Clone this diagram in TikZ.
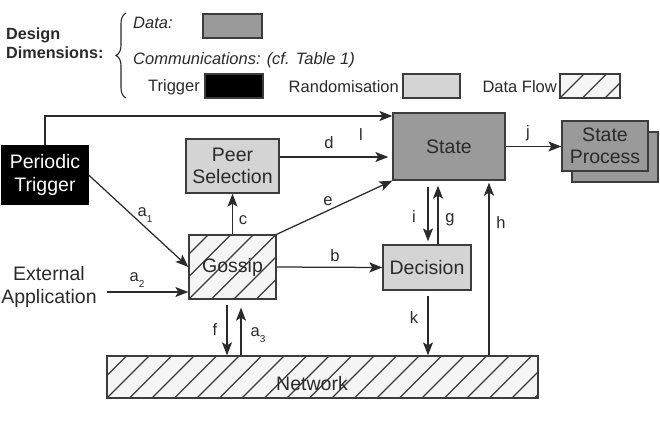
\documentclass[tikz,border=0pt]{standalone}
\usepackage{fontspec}
\setmainfont{Liberation Sans}
\usetikzlibrary{arrows.meta,decorations.pathreplacing}
\definecolor{dgray}{HTML}{9A9A9A}
\definecolor{lgray}{HTML}{D4D4D4}
\definecolor{hbg}{HTML}{F5F5F5}
\definecolor{ink}{HTML}{2A2A2A}
\definecolor{edge}{HTML}{3C3C3C}
\newcommand\lowsub[1]{\raisebox{-5.5pt}{\fontsize{10}{10}\selectfont #1}}
\begin{document}
\begin{tikzpicture}[x=1pt,y=-1pt,
  box/.style={draw=edge, line width=1.3pt, inner sep=0pt, align=center, text=ink,
    font=\fontsize{19.5}{22.5}\selectfont},
  hatchbox/.style={box, fill=hbg, path picture={
    \foreach \i in {-6,...,26}{\draw[edge, line width=1.1pt]
      ([xshift=\i*22.5pt]path picture bounding box.south west) -- ++(90,-90);}}},
  keybox/.style={draw=edge, line width=1.3pt, inner sep=0pt, minimum height=24},
  arr/.style={draw=ink, line width=1.25pt, -{Stealth[length=13pt,width=10pt,inset=3pt]}},
  lab/.style={text=ink, font=\fontsize{16.5}{18}\selectfont, inner sep=0pt},
  leg/.style={text=ink, font=\fontsize{16.5}{19}\selectfont, inner sep=0pt},
  legi/.style={leg, font=\itshape\fontsize{16.5}{19}\selectfont},
]
\useasboundingbox (0,0) rectangle (660,425);

% ---------- legend ----------
\node[font=\bfseries\fontsize{16.2}{19.5}\selectfont, align=left, anchor=west, text=ink, inner sep=0pt]
  (DD) at (6,43) {Design\\Dimensions:};
\draw[decorate, decoration={brace, amplitude=10pt}, draw=ink, line width=1.1pt] (126,98) -- (126,13);
\node[legi, anchor=west] (ldata) at (133,23) {Data:};
\node[keybox, fill=dgray, minimum width=59] (kdata) at (232.5,26) {};
\node[legi, anchor=west] (lcomm) at (133,60) {Communications: (cf. Table 1)};
\node[leg, anchor=east] (ltrig) at (200,87) {Trigger};
\node[keybox, fill=black, minimum width=58] (ktrig) at (234,86) {};
\node[leg, anchor=east] (lrand) at (399,87) {Randomisation};
\node[keybox, fill=lgray, minimum width=57] (krand) at (431.5,86) {};
\node[leg, anchor=east] (lflow) at (557,87) {Data Flow};
\node[hatchbox, keybox, minimum width=60] (kflow) at (590,86) {};

% ---------- main boxes ----------
\node[box, draw=black, fill=black, text=white, minimum width=86, minimum height=58] (PT) at (45,175) {Periodic\\Trigger};
\node[box, fill=lgray, minimum width=93, minimum height=54] (PS) at (232.5,166) {Peer\\Selection};
\node[hatchbox, minimum width=87, minimum height=64] (G) at (232.5,267) {Gossip};
\node[box, fill=dgray, minimum width=112, minimum height=67] (S) at (449,146.5) {State};
\node[box, fill=dgray, minimum width=86, minimum height=50] (SPb) at (615,157) {};
\node[box, fill=dgray, minimum width=86, minimum height=50] (SP) at (605,146) {State\\Process};
\node[box, fill=lgray, minimum width=88, minimum height=45] (D) at (427,267.5) {Decision};
\node[hatchbox, minimum width=431, minimum height=42] (N) at (322.5,377) {};
\node[text=ink, font=\fontsize{19.5}{22.5}\selectfont, inner sep=0pt] (NL) at (312,384) {Network};
\node[text=ink, font=\fontsize{19.5}{23}\selectfont, align=center, inner sep=0pt] (EA) at (49,287) {External\\Application};

% ---------- helper x positions ----------
\coordinate (ix) at (428,0);
\coordinate (gx) at (438,0);
\coordinate (hx) at (489,0);
\coordinate (fx) at (227,0);
\coordinate (a3x) at (241,0);
\coordinate (a2s) at (107,292);

% ---------- connectors ----------
\draw[arr] (PT.north) |- ([yshift=30.5pt]S.west);
\draw[arr] (PT.east) -- (G.west);
\draw[arr] (a2s) -- (a2s -| G.west);
\draw[arr] (G.north) -- (PS.south);
\draw[arr, shorten >=4pt] ([yshift=9pt]PS.east) -- ([yshift=9pt]PS.east -| S.west);
\draw[arr] (G.north east) -- (S.south west);
\draw[arr] (G.east) -- (D.west);
\draw[arr] (S.east) -- (S.east -| SP.west);
\draw[arr, shorten <=6pt, shorten >=3pt] (S.south -| ix) -- (D.north -| ix);
\draw[arr, shorten >=5pt] (D.north -| gx) -- (S.south -| gx);
\draw[arr, shorten >=2pt] (N.north -| hx) -- (S.south -| hx);
\draw[arr, shorten <=5pt] (D.south -| ix) -- (N.north -| ix);
\draw[arr, shorten <=5pt] (G.south -| fx) -- (N.north -| fx);
\draw[arr, shorten >=8pt] (N.north -| a3x) -- (G.south -| a3x);

% ---------- labels ----------
\node[lab] (ll) at (361,135) {l};
\node[lab] (ld) at (329,143) {d};
\node[lab] (le) at (328,201) {e};
\node[lab] (lb) at (335,256) {b};
\node[lab] (li) at (414,217) {i};
\node[lab] (lg) at (450,220) {g};
\node[lab] (lh) at (501,223) {h};
\node[lab] (lj) at (528,133) {j};
\node[lab] (lk) at (414,318) {k};
\node[lab] (lf) at (215,330) {f};
\node[lab] (la3) at (258,335) {a\lowsub{3}};
\node[lab] (lc) at (243,220) {c};
\node[lab] (la1) at (145,215) {a\lowsub{1}};
\node[lab] (la2) at (137,280) {a\lowsub{2}};
\end{tikzpicture}
\end{document}
